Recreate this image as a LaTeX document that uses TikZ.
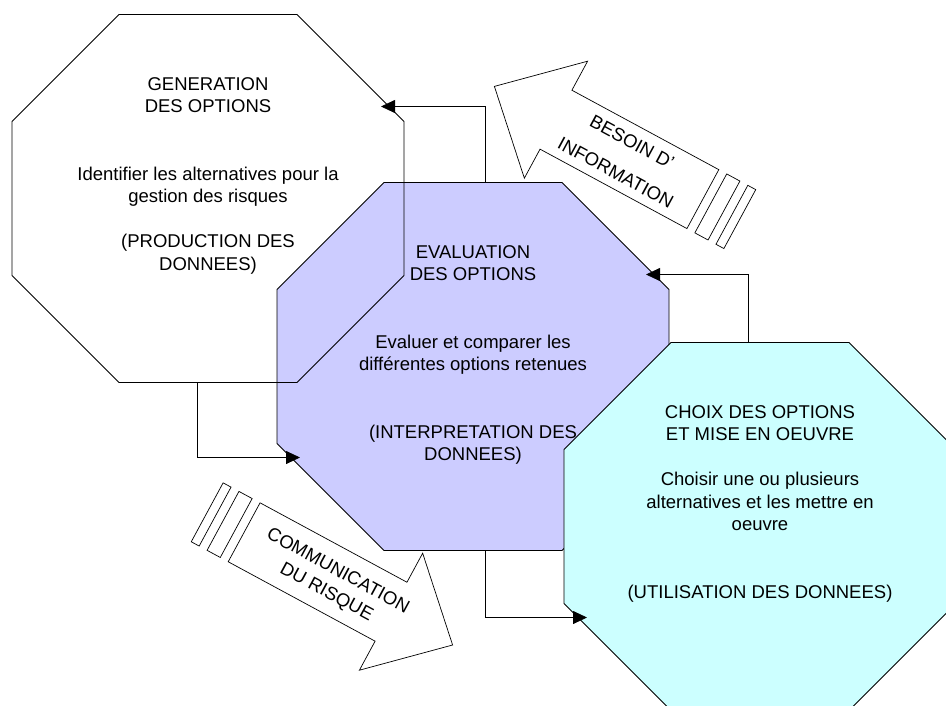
\documentclass[tikz,border=0pt]{standalone}
\usepackage{fontspec}
\setmainfont{Liberation Sans}
\usetikzlibrary{positioning,arrows.meta}
\definecolor{evalfill}{HTML}{CCCCFF}
\definecolor{choixfill}{HTML}{CCFFFF}

\begin{document}
\begin{tikzpicture}[
	x=1pt,y=-1pt,
	>={Triangle[length=14pt,width=13pt]},
	linie/.style={draw=black,line width=0.8pt},
	txt/.style={align=center,inner sep=0pt,outer sep=0pt,font=\fontsize{18.5}{22.5}\selectfont},
	octo/.pic={
		\draw[linie,pic actions] (0,107) -- (107,0) -- (285,0) -- (392,107) -- (392,261) -- (285,368) -- (107,368) -- (0,261) -- cycle;
		\coordinate (-n) at (196,0);
		\coordinate (-s) at (196,368);
		\coordinate (-ne) at (369,92);
		\coordinate (-sw) at (23,275);
	},
	striped/.pic={
		\draw[linie,line width=0.7pt,fill=white] (0,0) -- (70,-66.5) -- (70,-33.5) -- (237,-33.5) -- (237,33.5) -- (70,33.5) -- (70,66.5) -- cycle;
		\foreach \a/\b in {246/261,270/279}
			\draw[linie,line width=0.7pt,fill=white] (\a,-33.5) -- (\b,-33.5) -- (\b,33.5) -- (\a,33.5) -- cycle;
	}
	]
\useasboundingbox (0,0) rectangle (946,706);
\clip (0,0) rectangle (946,706);

% block arrows (behind the octagons)
\pic[rotate=-28.4] at (494.4,86.4) {striped};
\pic[rotate=151.6] at (452.6,645) {striped};
\node[txt,rotate=-28.4] (besoin) at (624,157.5) {BESOIN D’\\[12pt]INFORMATION};
\node[txt,rotate=-28.4] (comm) at (332,582) {COMMUNICATION\\[1.5pt]DU RISQUE};

% octagons
\pic[fill=evalfill] (eval) at (277,182.5) {octo};
\node[txt,below=63pt of eval-n] (evaltext) {EVALUATION\\DES OPTIONS\\[45pt]Evaluer et comparer les\\différentes options retenues\\[45pt](INTERPRETATION DES\\DONNEES)};

\pic (gen) at (12,14.5) {octo};
\node[txt,below=63pt of gen-n] (gentext) {GENERATION\\DES OPTIONS\\[45pt]Identifier les alternatives pour la\\gestion des risques\\[22.5pt](PRODUCTION DES\\DONNEES)};

\pic[fill=choixfill] (choix) at (564,342.5) {octo};
\node[txt,below=63pt of choix-n] (choixtext) {CHOIX DES OPTIONS\\ET MISE EN OEUVRE\\[22.5pt]Choisir une ou plusieurs\\alternatives et les mettre en\\oeuvre\\[45pt](UTILISATION DES DONNEES)};

% connectors
\draw[->, linie] ([xshift=12pt]eval-n) |- (gen-ne);
\draw[->, linie] ([xshift=-11pt]gen-s) |- (eval-sw);
\draw[->, linie] ([xshift=12pt]eval-s) |- (choix-sw);
\draw[->, linie] ([xshift=-12pt]choix-n) |- (eval-ne);

\end{tikzpicture}
\end{document}
